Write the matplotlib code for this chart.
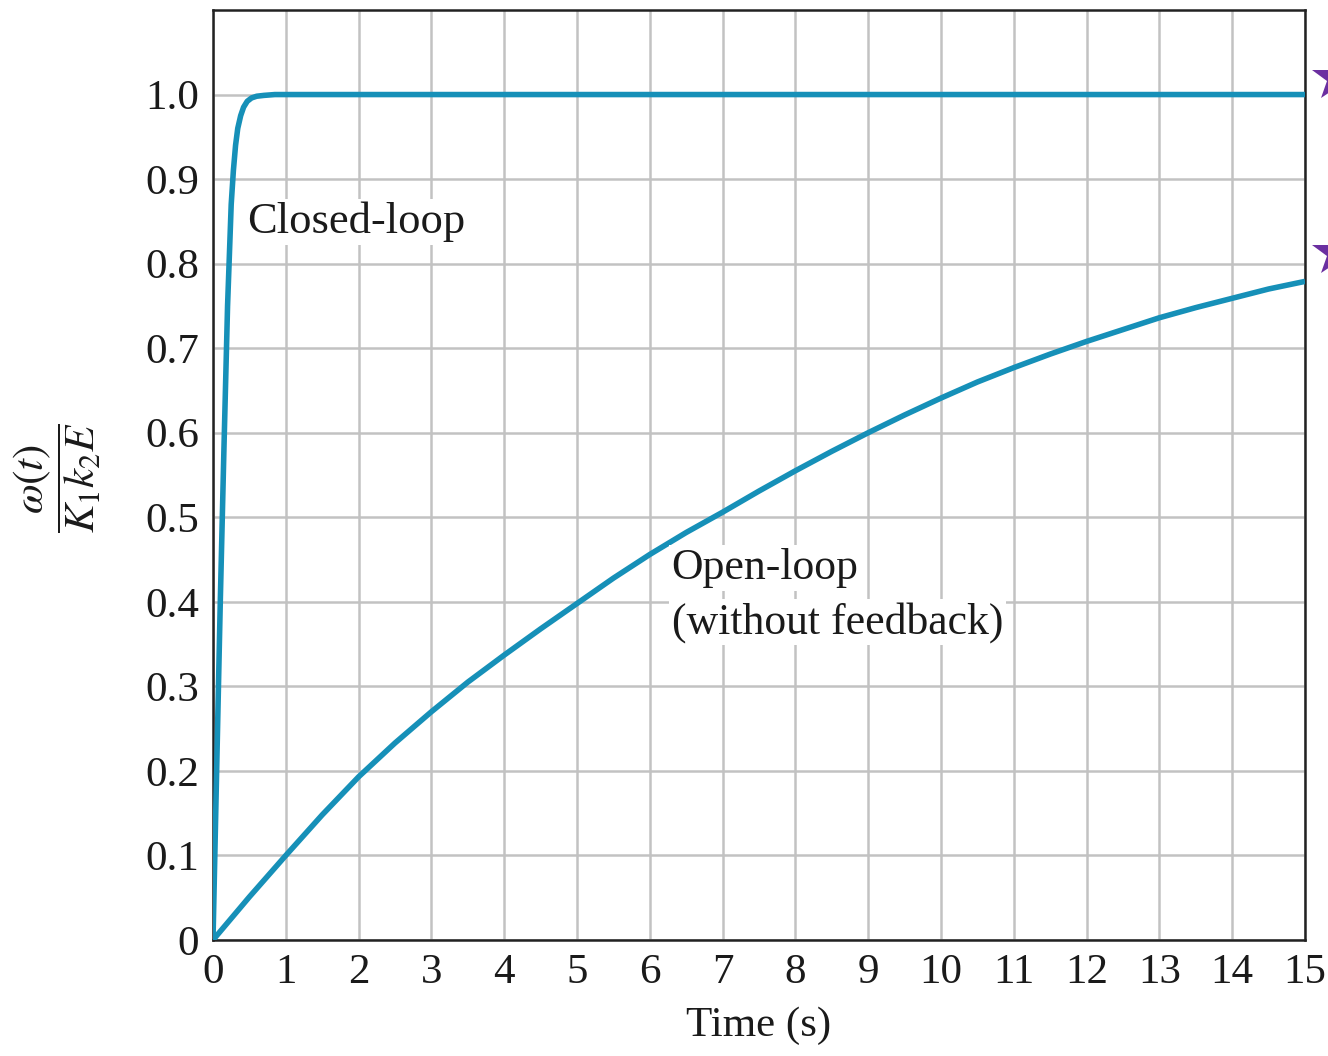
import matplotlib
matplotlib.use("Agg")
import matplotlib.pyplot as plt
from matplotlib.lines import Line2D

plt.rcParams["font.family"] = ["Liberation Serif", "DejaVu Serif"]
plt.rcParams["mathtext.fontset"] = "stix"

# Normalized speed response of the motor, with and without feedback
open_t = [0, 0.5, 1, 1.5, 2, 2.5, 3, 3.5, 4, 4.5, 5, 5.5, 6, 6.5, 7, 7.5, 8,
          8.5, 9, 9.5, 10, 10.5, 11, 11.5, 12, 12.5, 13, 13.5, 14, 14.5, 15]
open_w = [0, 0.051, 0.100, 0.148, 0.193, 0.233, 0.270, 0.305, 0.337, 0.368,
          0.398, 0.428, 0.456, 0.482, 0.506, 0.531, 0.555, 0.578, 0.600,
          0.621, 0.641, 0.660, 0.677, 0.693, 0.708, 0.722, 0.736, 0.748,
          0.759, 0.770, 0.779]

closed_t = [0, 0.05, 0.1, 0.15, 0.2, 0.25, 0.28, 0.31, 0.34, 0.38, 0.42,
            0.47, 0.53, 0.6, 0.7, 0.85, 1.0, 15]
closed_w = [0, 0.2, 0.4, 0.58, 0.75, 0.87, 0.91, 0.94, 0.96, 0.975, 0.985,
            0.992, 0.996, 0.998, 0.999, 1.0, 1.0, 1.0]

x_ticks = list(range(0, 16))
y_ticks = [0, 0.1, 0.2, 0.3, 0.4, 0.5, 0.6, 0.7, 0.8, 0.9, 1.0]
y_tick_labels = ["0", "0.1", "0.2", "0.3", "0.4", "0.5", "0.6", "0.7", "0.8", "0.9", "1.0"]

line_color = "#1690b8"
grid_color = "#c2c2c2"
text_color = "#1a1a1a"

fig = plt.figure(figsize=(13.28, 10.56), dpi=100)
ax = fig.add_axes([213 / 1328, 116 / 1056, (1305 - 213) / 1328, (940 - 10) / 1056])

ax.plot(open_t, open_w, color=line_color, lw=4, solid_capstyle="butt",
        solid_joinstyle="round", zorder=3)
ax.plot(closed_t, closed_w, color=line_color, lw=4, solid_capstyle="butt",
        solid_joinstyle="round", zorder=3)

ax.set_xlim(0, 15)
ax.set_ylim(0, 1.1)
ax.set_xticks(x_ticks)
ax.set_xticklabels([str(v) for v in x_ticks])
ax.set_yticks(y_ticks)
ax.set_yticklabels(y_tick_labels)
ax.tick_params(length=0, labelsize=31, pad=10, labelcolor=text_color)
ax.grid(True, color=grid_color, lw=1.8, zorder=0)
ax.set_axisbelow(True)
for s in ax.spines.values():
    s.set_linewidth(1.8)
    s.set_color("#222222")

ax.set_xlabel("Time (s)", fontsize=31, labelpad=10, color=text_color)
fig.text(57 / 1328, 1 - 478 / 1056, r"$\dfrac{\omega(t)}{K_1 k_2 E}$",
         fontsize=31, rotation=90, ha="center", va="center", color=text_color)

box = dict(facecolor="white", edgecolor="none", pad=2)
ax.text(0.47, 0.849, "Closed-loop", fontsize=32, ha="left", va="center",
        color=text_color, bbox=box, zorder=4)
ax.text(6.3, 0.44, "Open-loop", fontsize=31.5, ha="left", va="center",
        color=text_color, bbox=box, zorder=4)
ax.text(6.3, 0.376, "(without feedback)", fontsize=31.5, ha="left", va="center",
        color=text_color, bbox=box, zorder=4)

# Margin markers at the right edge
for yc in (78, 253):
    fig.add_artist(Line2D([1336 / 1328], [1 - yc / 1056], transform=fig.transFigure,
                          marker="*", markersize=36, color="#6b2fa0",
                          markeredgewidth=0, linestyle="none", clip_on=False))

fig.savefig("out.png", dpi=100)
